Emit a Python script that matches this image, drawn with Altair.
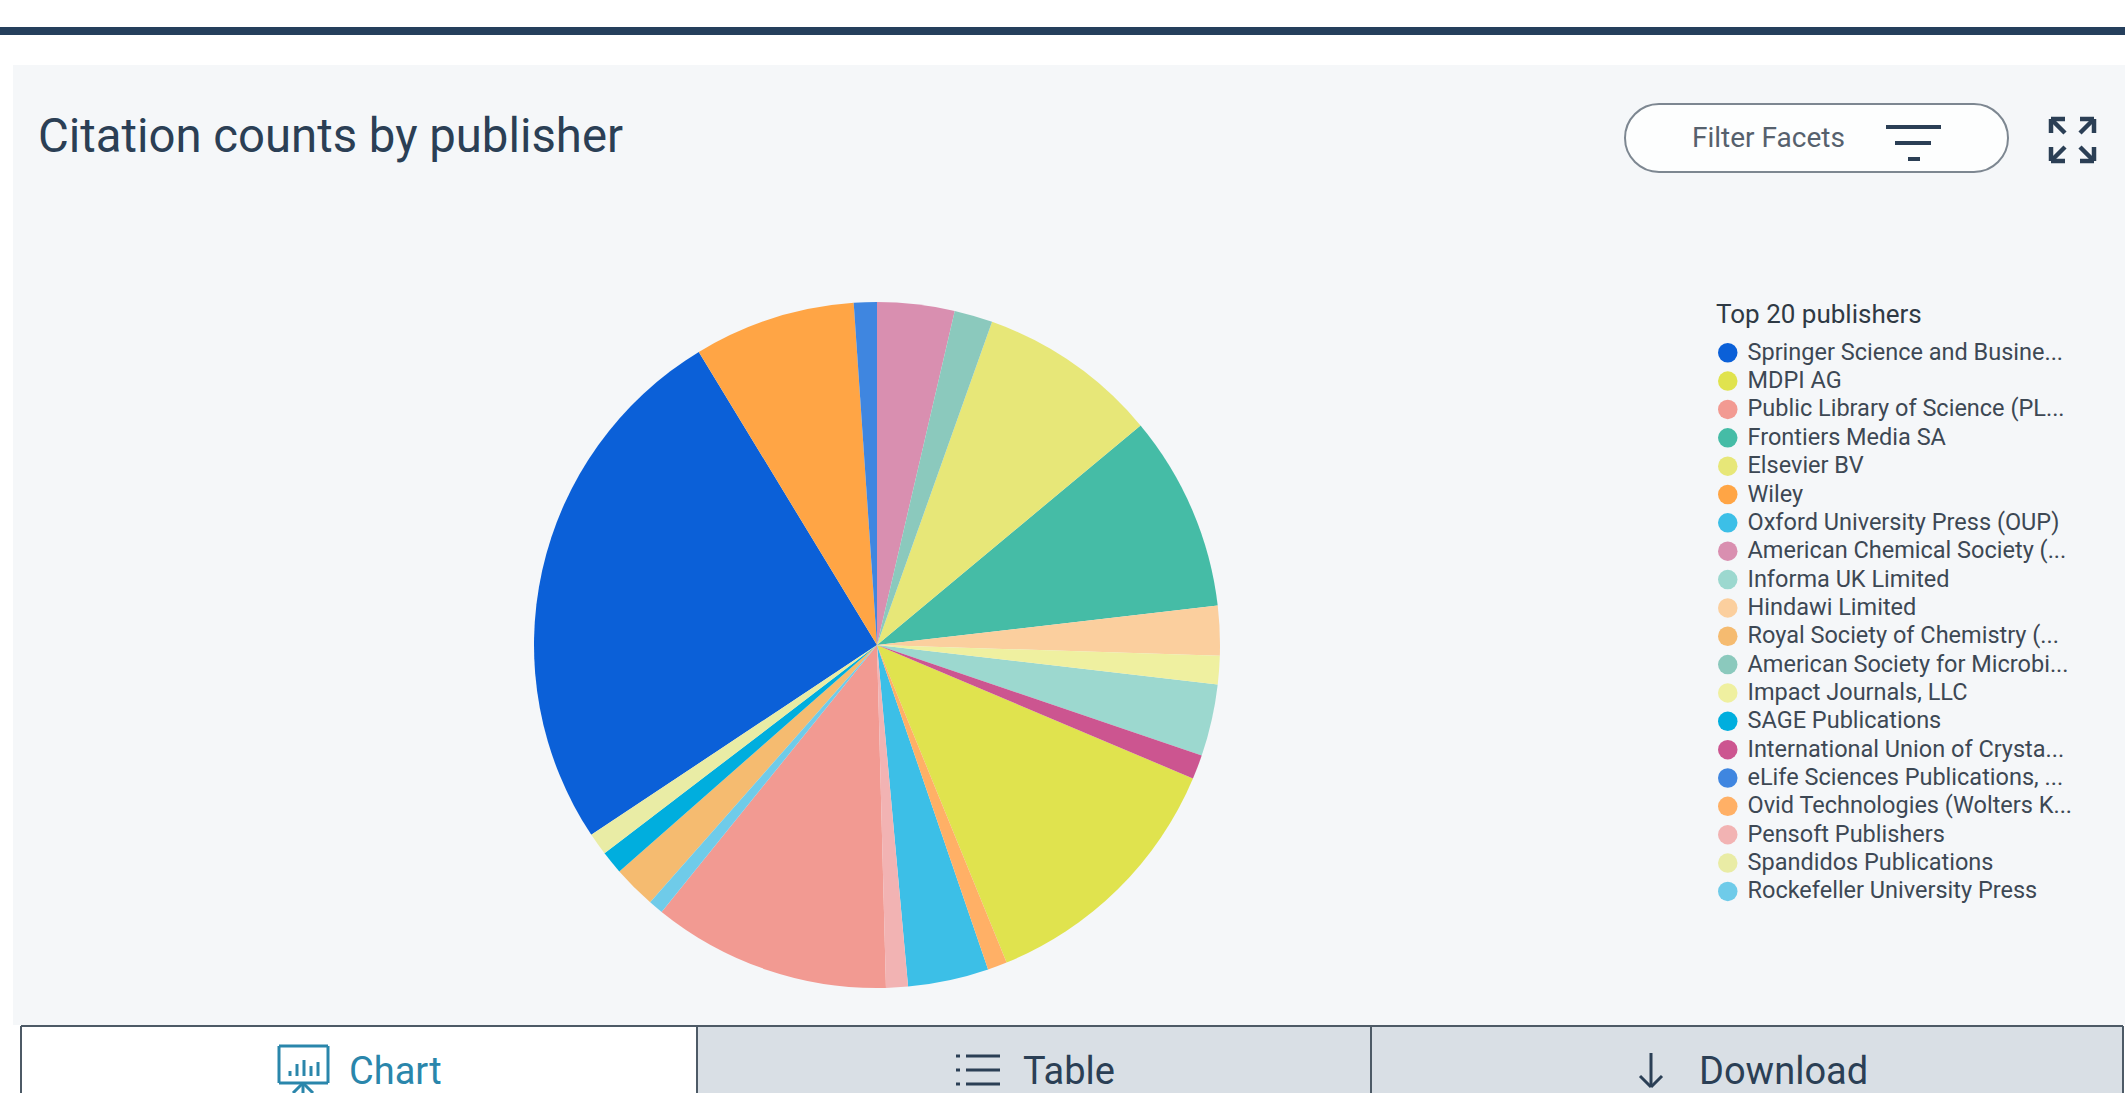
import altair as alt
import pandas as pd

# Publishers in legend order, with their share of citations (degrees of the full circle)
publishers = [
    "Springer Science and Busine...", "MDPI AG", "Public Library of Science (PL...",
    "Frontiers Media SA", "Elsevier BV", "Wiley", "Oxford University Press (OUP)",
    "American Chemical Society (...", "Informa UK Limited", "Hindawi Limited",
    "Royal Society of Chemistry (...", "American Society for Microbi...",
    "Impact Journals, LLC", "SAGE Publications", "International Union of Crysta...",
    "eLife Sciences Publications, ...", "Ovid Technologies (Wolters K...",
    "Pensoft Publishers", "Spandidos Publications", "Rockefeller University Press",
]
shares = [92.3, 44.9, 40.4, 33.2, 30.6, 27.4, 13.7, 13.1, 12.2, 8.4,
          7.3, 6.5, 4.8, 3.9, 4.1, 3.9, 3.3, 3.7, 3.8, 2.5]
# Slices run clockwise in alphabetical order of the publisher name
slice_order = [18, 9, 13, 4, 3, 19, 11, 1, 7, 5,
               15, 2, 6, 16, 8, 20, 10, 12, 17, 14]
colors = ["#0b60d8", "#e0e34e", "#f29a92", "#45bca6", "#e7e778", "#ffa545", "#3cbfe7",
          "#d98fb0", "#9cd8cf", "#fbcf9e", "#f5bb70", "#8bc9bd", "#eff0a0", "#00aede",
          "#cc5590", "#3f86e0", "#ffb066", "#f2b3b3", "#e9eca5", "#6fcbe9"]

FONT = "Roboto"
W, H = 2125, 1093
INK = "#2b3f55"


def box(x, x2, y, y2, fill, **kw):
    """A filled page region given in page pixels."""
    df = pd.DataFrame({"x": [x], "x2": [x2], "y": [y], "y2": [y2]})
    return alt.Chart(df).mark_rect(fill=fill, **kw).encode(
        x=alt.X("x:Q", scale=None, axis=None), x2="x2:Q",
        y=alt.Y("y:Q", scale=None, axis=None), y2="y2:Q")


def strokes(segments, color, width):
    """Straight line segments (x, y, x2, y2) given in page pixels."""
    df = pd.DataFrame(segments, columns=["x", "y", "x2", "y2"])
    return alt.Chart(df).mark_rule(color=color, strokeWidth=width).encode(
        x=alt.X("x:Q", scale=None, axis=None), x2="x2:Q",
        y=alt.Y("y:Q", scale=None, axis=None), y2="y2:Q")


def label(text, x, y, size, color, align="left", font=FONT, weight=400):
    df = pd.DataFrame({"t": [text], "x": [x], "y": [y]})
    return alt.Chart(df).mark_text(
        font=font, fontSize=size, color=color, align=align, baseline="middle", fontWeight=weight
    ).encode(
        x=alt.X("x:Q", scale=None, axis=None),
        y=alt.Y("y:Q", scale=None, axis=None), text="t:N")


pie_df = pd.DataFrame({"publisher": publishers, "share": shares, "order": slice_order})
pie = alt.Chart(pie_df).mark_arc(radius=343).encode(
    theta=alt.Theta("share:Q", stack=True),
    order=alt.Order("order:Q"),
    color=alt.Color(
        "publisher:N",
        scale=alt.Scale(domain=publishers, range=colors),
        legend=alt.Legend(
            title="Top 20 publishers", orient="none", legendX=1716, legendY=302,
            titleFont=FONT, titleFontSize=26, titleFontWeight=400, titleColor="#2f3a45",
            titleLimit=400, titlePadding=13, labelFont=FONT, labelFontSize=23.5,
            labelColor="#3d4854", labelLimit=400, labelOffset=8, symbolType="circle",
            symbolSize=380, symbolStrokeWidth=0, rowPadding=3.35, padding=0, values=publishers,
        ),
    ),
    x=alt.value(877),
    y=alt.value(645),
)

arrows = [
    # top-left
    (2051, 119, 2065, 133), (2051, 119, 2065, 119), (2051, 119, 2051, 133),
    # top-right
    (2094, 119, 2080, 133), (2094, 119, 2080, 119), (2094, 119, 2094, 133),
    # bottom-left
    (2051, 161, 2065, 147), (2051, 161, 2065, 161), (2051, 161, 2051, 147),
    # bottom-right
    (2094, 161, 2080, 147), (2094, 161, 2080, 161), (2094, 161, 2094, 147),
]
filter_icon = [(1886, 127, 1941, 127), (1895, 143, 1931, 143), (1908, 159, 1920, 159)]
chart_icon = [(279, 1046, 328, 1046), (279, 1046, 279, 1083), (328, 1046, 328, 1083),
              (279, 1083, 328, 1083), (303, 1083, 303, 1093),
              (303, 1083, 293, 1093), (303, 1083, 313, 1093)]
chart_bars = [(290, 1071, 290, 1076), (297, 1064, 297, 1076), (304, 1060, 304, 1076),
              (311, 1066, 311, 1076), (318, 1062, 318, 1076)]
table_icon = [(956, 1056, 960, 1056), (966, 1056, 1000, 1056),
              (956, 1070, 960, 1070), (966, 1070, 1000, 1070),
              (956, 1084, 960, 1084), (966, 1084, 1000, 1084)]
down_arrow = [(1651, 1053, 1651, 1087), (1651, 1087, 1640, 1076), (1651, 1087, 1662, 1076)]

layers = [
    box(0, W, 27, 35, "#253f5c"),
    box(13, W, 65, 1025, "#f5f7f9"),
    box(1625, 2008, 104, 172, "#fdfefe", cornerRadius=34, stroke="#7d8791", strokeWidth=2),
    label("Citation counts by publisher", 38, 138, 47.3, INK),
    label("Filter Facets", 1692, 139, 28, "#56616d"),
    strokes(filter_icon, INK, 4),
    strokes(arrows, INK, 4.5),
    box(21, 697, 1026, H, "#ffffff"),
    box(697, 1371, 1026, H, "#d9dfe5"),
    box(1371, 2123, 1026, H, "#d9dfe5"),
    strokes([(21, 1026, 2123, 1026), (21, 1026, 21, H), (697, 1026, 697, H),
             (1371, 1026, 1371, H), (2123, 1026, 2123, H)], "#4d5a66", 2),
    strokes(chart_icon, "#2a86ab", 3),
    strokes(chart_bars, "#2a86ab", 3),
    label("Chart", 349, 1073, 38, "#2a86ab"),
    strokes(table_icon, INK, 3),
    label("Table", 1023, 1073, 38, INK),
    strokes(down_arrow, INK, 3),
    label("Download", 1699, 1073, 38, INK),
    pie,
]

chart = alt.layer(*layers).properties(
    width=W, height=H, padding=0, background="#ffffff",
    autosize=alt.AutoSizeParams(type="none"),
).configure_view(stroke=None)

chart.save("out.html", embed_options={"renderer": "svg", "actions": False})
